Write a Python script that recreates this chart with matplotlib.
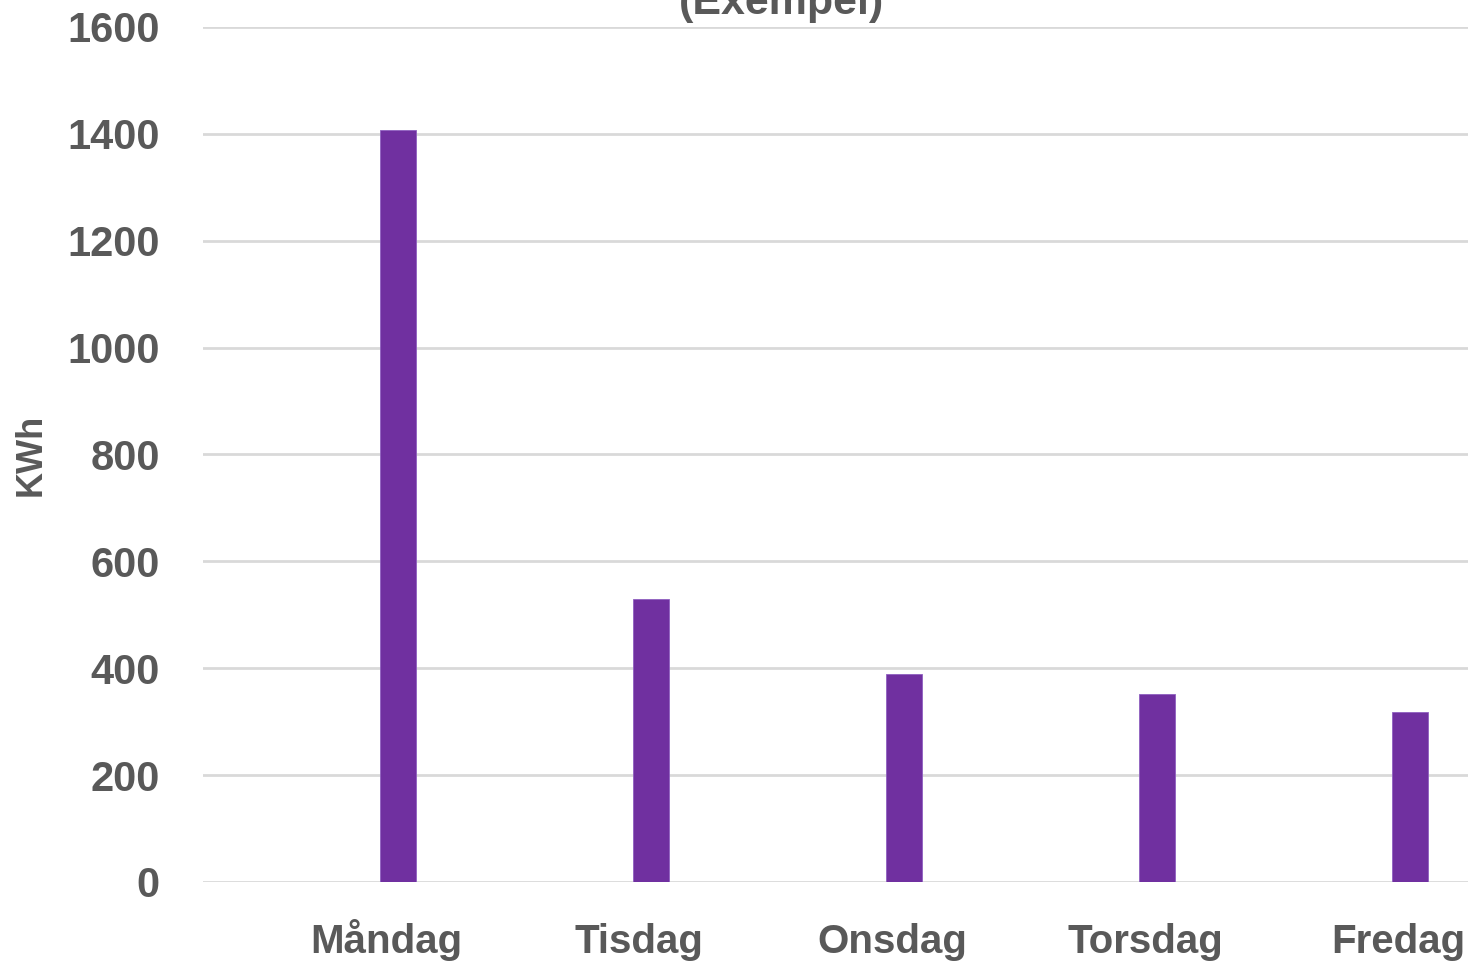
import numpy as np
import matplotlib
matplotlib.use("Agg")
import matplotlib.pyplot as plt

# energy use per weekday
days = ["Måndag", "Tisdag", "Onsdag", "Torsdag", "Fredag"]
kwh = [1408, 530, 389, 351, 318]
yticks = [0, 200, 400, 600, 800, 1000, 1200, 1400, 1600]

purple = "#7030A0"
grey_txt = "#595959"
grid_col = "#d9d9d9"

fig = plt.figure(figsize=(14.73, 9.64), dpi=100)
ax = fig.add_axes([0.1378, 0.0851, 0.8588, 0.8869])

x = np.arange(len(days))
ax.bar(x, kwh, width=0.142, color=purple, edgecolor="#8f5fc0", linewidth=0.6, zorder=3)

ax.set_xlim(-0.77, 4.23)
ax.set_ylim(0, 1600)
ax.set_yticks(yticks)
ax.grid(axis="y", color=grid_col, linewidth=2.0, zorder=0)
ax.set_axisbelow(True)
for s in ax.spines.values():
    s.set_visible(False)

ax.tick_params(axis="both", length=0)
ax.tick_params(axis="y", pad=31)
ax.tick_params(axis="x", pad=51)
ax.set_yticklabels([str(v) for v in yticks], fontsize=30, fontweight="bold",
                   color=grey_txt, family="Liberation Sans")
ax.set_xticks(x - 0.045)
ax.set_xticklabels(days, fontsize=29, fontweight="bold", color=grey_txt,
                   family="Liberation Sans")
for lbl in ax.get_xticklabels():
    lbl.set_va("baseline")

fig.text(31 / 1473, 1 - 455 / 964, "KWh", rotation=90, ha="center", va="center",
         fontsize=26, fontweight="bold", color=grey_txt, family="Liberation Sans")

# title is cut off at the top of the image, only the second line shows
fig.text(782 / 1473, 1 - 14 / 964, "(Exempel)", ha="center", va="baseline",
         fontsize=31, fontweight="bold", color=grey_txt, family="Liberation Sans")

fig.savefig("out.png", dpi=100)
